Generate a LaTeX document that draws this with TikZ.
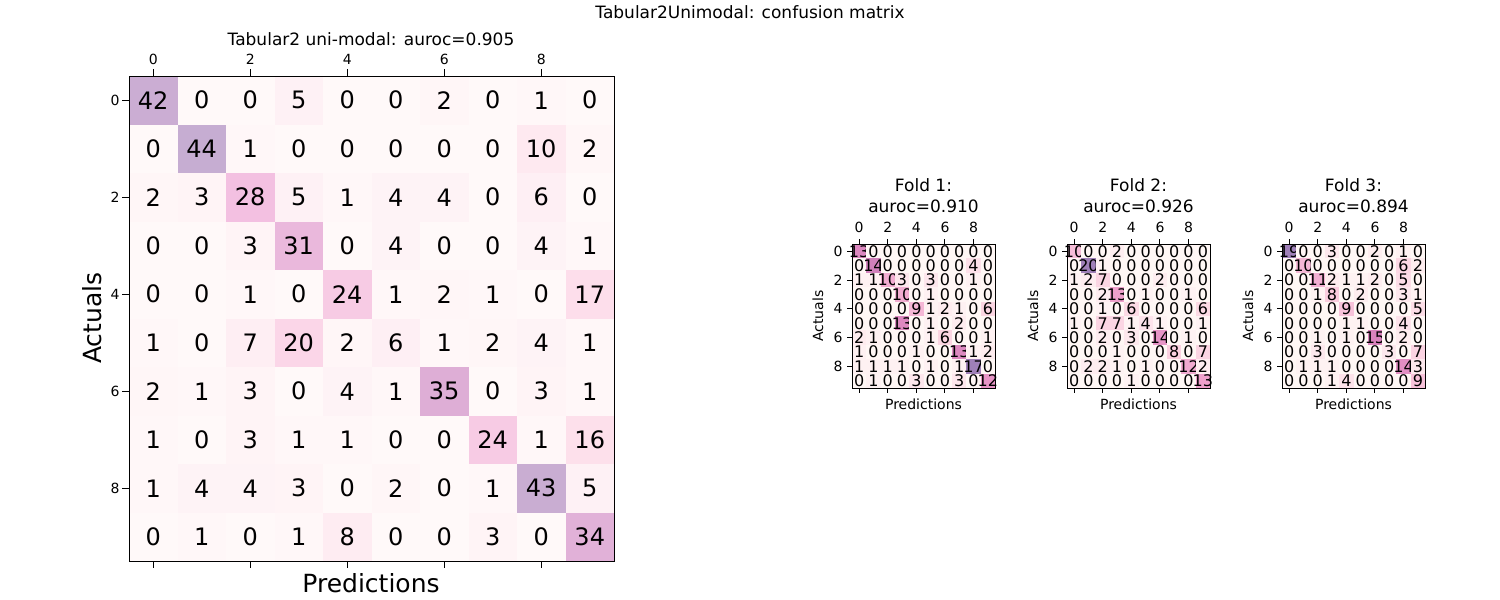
\documentclass[tikz,border=0pt]{standalone}
\usepackage{fontspec}
\setmainfont{DejaVu Sans}
\definecolor{mA}{HTML}{FFF9F9}\definecolor{mB}{HTML}{FDDDEA}\definecolor{mC}{HTML}{F2BEE0}\definecolor{mD}{HTML}{DDAED6}\definecolor{mE}{HTML}{C6ADD2}
\definecolor{fA}{HTML}{FFF7F5}\definecolor{fB}{HTML}{FBD0E0}\definecolor{fC}{HTML}{EFA0CC}\definecolor{fD}{HTML}{D880BC}\definecolor{fE}{HTML}{9F80B8}
\newcommand{\mysetcol}[2]{%
  \pgfmathsetmacro{\myt}{#2}%
  \pgfmathsetmacro{\segA}{min(100,max(0,100*\myt/0.4))}%
  \pgfmathsetmacro{\segB}{min(100,max(0,100*(\myt-0.4)/0.25))}%
  \pgfmathsetmacro{\segC}{min(100,max(0,100*(\myt-0.65)/0.15))}%
  \pgfmathsetmacro{\segD}{min(100,max(0,100*(\myt-0.8)/0.2))}%
  \ifdim\myt pt<0.4pt \colorlet{cc}{#1B!\segA!#1A}\else
  \ifdim\myt pt<0.65pt \colorlet{cc}{#1C!\segB!#1B}\else
  \ifdim\myt pt<0.8pt \colorlet{cc}{#1D!\segC!#1C}\else
  \colorlet{cc}{#1E!\segD!#1D}\fi\fi\fi}
\begin{document}
\begin{tikzpicture}[x=0.5pt,y=-0.5pt,
  ticklab/.style={font=\fontsize{7}{8}\selectfont},
  ttl/.style={font=\fontsize{8.5}{10}\selectfont},
  bigaxis/.style={font=\fontsize{12.5}{14}\selectfont},
  smaxis/.style={font=\fontsize{7}{8}\selectfont}]
\useasboundingbox (0,0) rectangle (1500,600);
\node[ttl] (sup) at (750,12) {Tabular2Unimodal: confusion matrix};
\def\mx{129}\def\my{76}\def\mc{48.5}
\node[ttl] (mt) at (371,39) {Tabular2 uni-modal: auroc=0.905};
\foreach \row [count=\r from 0] in {
 {42,0,0,5,0,0,2,0,1,0},{0,44,1,0,0,0,0,0,10,2},{2,3,28,5,1,4,4,0,6,0},
 {0,0,3,31,0,4,0,0,4,1},{0,0,1,0,24,1,2,1,0,17},{1,0,7,20,2,6,1,2,4,1},
 {2,1,3,0,4,1,35,0,3,1},{1,0,3,1,1,0,0,24,1,16},{1,4,4,3,0,2,0,1,43,5},
 {0,1,0,1,8,0,0,3,0,34}}{
  \foreach \v [count=\c from 0] in \row {
    \mysetcol{m}{\v/44}
    \fill[cc] ({\mx+\c*\mc},{\my+\r*\mc}) rectangle ++(\mc,\mc);
    \node[font=\fontsize{12}{14}\selectfont] (m\r-\c) at ({\mx+(\c+0.5)*\mc},{\my+(\r+0.5)*\mc}) {\v};
  }}
\draw[line width=0.5pt] (\mx,\my) rectangle ++(485,485);
\foreach \k in {0,2,4,6,8}{
  \draw[line width=0.5pt] ({\mx+(\k+0.5)*\mc},\my) -- ++(0,-7);
  \node[ticklab] (mtx\k) at ({\mx+(\k+0.5)*\mc},59) {\k};
  \draw[line width=0.5pt] ({\mx+(\k+0.5)*\mc},{\my+485}) -- ++(0,7);
  \draw[line width=0.5pt] (\mx,{\my+(\k+0.5)*\mc}) -- ++(-7,0);
  \node[ticklab] (mty\k) at (115,{\my+(\k+0.5)*\mc}) {\k};
}
\node[bigaxis] (mxl) at (371,583) {Predictions};
\node[bigaxis,rotate=90] (myl) at (92,318) {Actuals};
\foreach \fx/\name/\au/\fmax/\data in {
 852/Fold 1/0.910/17/{{13,0,0,0,0,0,0,0,0,0},{0,14,0,0,0,0,0,0,4,0},{1,1,10,3,0,3,0,0,1,0},{0,0,0,10,0,1,0,0,0,0},{0,0,0,0,9,1,2,1,0,6},{0,0,0,13,0,1,0,2,0,0},{2,1,0,0,0,1,6,0,0,1},{1,0,0,0,1,0,0,13,1,2},{1,1,1,1,0,1,0,1,17,0},{0,1,0,0,3,0,0,3,0,12}},
 1067/Fold 2/0.926/20/{{10,0,0,2,0,0,0,0,0,0},{0,20,1,0,0,0,0,0,0,0},{1,2,7,0,0,0,2,0,0,0},{0,0,2,13,0,1,0,0,1,0},{0,0,1,0,6,0,0,0,0,6},{1,0,7,7,1,4,1,0,0,1},{0,0,2,0,3,0,14,0,1,0},{0,0,0,1,0,0,0,8,0,7},{0,2,2,1,0,1,0,0,12,2},{0,0,0,0,1,0,0,0,0,13}},
 1282/Fold 3/0.894/19/{{19,0,0,3,0,0,2,0,1,0},{0,10,0,0,0,0,0,0,6,2},{0,0,11,2,1,1,2,0,5,0},{0,0,1,8,0,2,0,0,3,1},{0,0,0,0,9,0,0,0,0,5},{0,0,0,0,1,1,0,0,4,0},{0,0,1,0,1,0,15,0,2,0},{0,0,3,0,0,0,0,3,0,7},{0,1,1,1,0,0,0,0,14,3},{0,0,0,1,4,0,0,0,0,9}}}{
  \foreach \row [count=\r from 0] in \data {
    \foreach \v [count=\c from 0] in \row {
      \mysetcol{f}{\v/\fmax}
      \fill[cc] ({\fx+\c*14.3},{244+\r*14.4}) rectangle ++(14.3,14.4);
      \node[font=\fontsize{8}{9}\selectfont,inner sep=0pt] at ({\fx+(\c+0.5)*14.3},{244+(\r+0.5)*14.4}) {\v};
    }}
  \draw[line width=0.5pt] (\fx,244) rectangle ++(143,144);
  \foreach \k in {0,2,4,6,8}{
    \draw[line width=0.5pt] ({\fx+(\k+0.5)*14.3},244) -- ++(0,-5);
    \node[ticklab] at ({\fx+(\k+0.5)*14.3},227) {\k};
    \draw[line width=0.5pt] ({\fx+(\k+0.5)*14.3},388) -- ++(0,5);
    \draw[line width=0.5pt] (\fx,{244+(\k+0.5)*14.4}) -- ++(-5,0);
    \node[ticklab] at ({\fx-14},{244+(\k+0.5)*14.4}) {\k};
  }
  \node[ttl] at ({\fx+71.5},185) {\name:};
  \node[ttl] at ({\fx+71.5},206) {auroc=\au};
  \node[smaxis] at ({\fx+71.5},404) {Predictions};
  \node[smaxis,rotate=90] at ({\fx-34},316) {Actuals};
}
\end{tikzpicture}
\end{document}
